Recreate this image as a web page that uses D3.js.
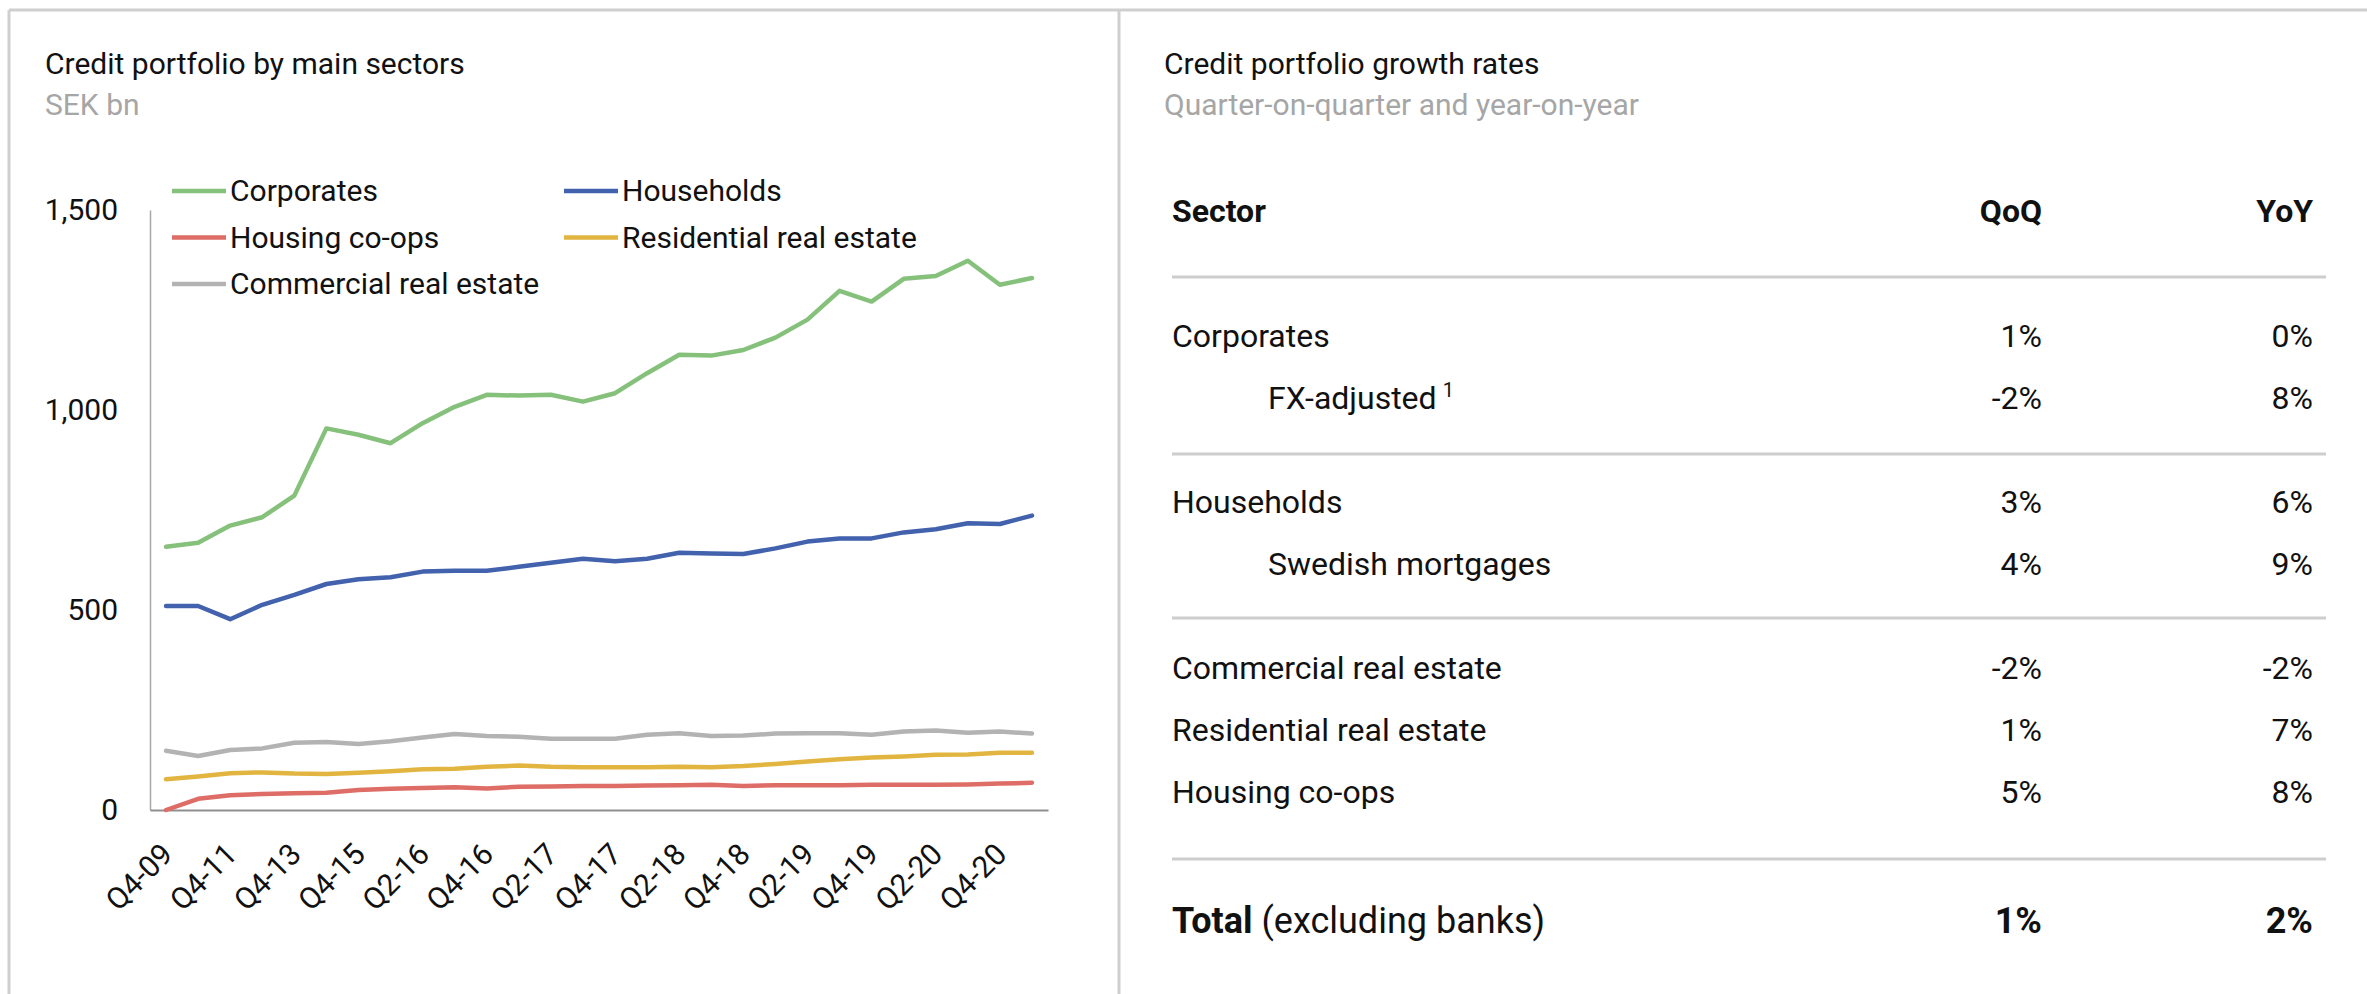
<!DOCTYPE html>
<html>
<head>
<meta charset="utf-8">
<script src="https://cdn.jsdelivr.net/npm/d3@7"></script>
<style>
  html, body { margin: 0; padding: 0; background: #fff; }
  svg { display: block; font-family: Roboto, "Noto Sans", sans-serif; }
</style>
</head>
<body>
<svg id="page" width="2367" height="994"></svg>
<script>
// Quarter categories (yearly Q4 points until 2015, quarterly afterwards)
const quarters = ["Q4-09","Q4-10","Q4-11","Q4-12","Q4-13","Q4-14","Q4-15","Q1-16","Q2-16","Q3-16",
  "Q4-16","Q1-17","Q2-17","Q3-17","Q4-17","Q1-18","Q2-18","Q3-18","Q4-18","Q1-19",
  "Q2-19","Q3-19","Q4-19","Q1-20","Q2-20","Q3-20","Q4-20","Q1-21"];

// Credit portfolio, SEK bn
const corporates  = [658, 668, 711, 732, 786, 954, 938, 917, 967, 1008, 1038, 1036, 1038, 1021, 1042, 1092, 1138, 1136, 1150, 1181, 1226, 1298, 1271, 1328, 1335, 1373, 1313, 1330];
const households  = [510, 510, 477, 513, 538, 565, 577, 582, 596, 598, 598, 608, 618, 628, 622, 628, 643, 641, 640, 654, 671, 679, 679, 694, 702, 717, 715, 736];
const housingCoops = [0, 28, 37, 40, 42, 43, 50, 53, 55, 57, 54, 58, 59, 60, 60, 61, 62, 63, 60, 62, 62, 62, 63, 63, 63, 64, 66, 68];
const residential = [77, 84, 92, 94, 91, 90, 93, 97, 102, 103, 108, 111, 108, 107, 107, 107, 108, 107, 110, 115, 121, 127, 131, 134, 138, 139, 143, 143];
const commercial  = [148, 135, 150, 154, 168, 170, 165, 172, 181, 190, 185, 183, 178, 178, 178, 188, 192, 185, 186, 191, 192, 192, 188, 196, 199, 193, 196, 191];

const seriesNames = ["Corporates", "Households", "Housing co-ops", "Residential real estate", "Commercial real estate"];
const seriesValues = [corporates, households, housingCoops, residential, commercial];
const seriesColors = ["#86c17c", "#4262ad", "#dd6d66", "#e2b540", "#b3b3b3"];

const yTicks = [0, 500, 1000, 1500];

// Growth-rate table
const tableSectors = ["Corporates", "FX-adjusted", "Households", "Swedish mortgages",
  "Commercial real estate", "Residential real estate", "Housing co-ops"];
const tableIndent = [false, true, false, true, false, false, false];
const tableNote   = ["", "1", "", "", "", "", ""];
const qoq = ["1%", "-2%", "3%", "4%", "-2%", "1%", "5%"];
const yoy = ["0%", "8%", "6%", "9%", "-2%", "7%", "8%"];
const totalQoq = "1%";
const totalYoy = "2%";

const svg = d3.select("#page");

// ---- panel frame ----
const frame = svg.append("g").attr("stroke", "#cfcfcf").attr("stroke-width", 3).attr("fill", "none");
frame.append("line").attr("x1", 9).attr("x2", 2367).attr("y1", 10).attr("y2", 10);
frame.append("line").attr("x1", 9).attr("x2", 9).attr("y1", 10).attr("y2", 994);
frame.append("line").attr("x1", 1119).attr("x2", 1119).attr("y1", 10).attr("y2", 994);

// ---- left panel: line chart ----
const left = svg.append("g");
left.append("text").attr("x", 45).attr("y", 74).attr("font-size", 30).attr("fill", "#111")
  .text("Credit portfolio by main sectors");
left.append("text").attr("x", 45).attr("y", 115).attr("font-size", 30).attr("fill", "#a6a6a6")
  .text("SEK bn");

const x = d3.scalePoint().domain(quarters).range([150, 1048]).padding(0.5);
const y = d3.scaleLinear().domain([0, 1500]).range([810, 210]);

const yAxis = left.append("g").attr("transform", "translate(150,0)")
  .call(d3.axisLeft(y).tickValues(yTicks).tickSize(0).tickPadding(32).tickFormat(d3.format(",")));
yAxis.select(".domain").attr("stroke", "#a8a8a8").attr("stroke-width", 1.5);
yAxis.selectAll("text").attr("font-size", 30).attr("font-family", "Roboto, sans-serif").attr("fill", "#111");

const xAxis = left.append("g").attr("transform", "translate(0,810)")
  .call(d3.axisBottom(x).tickSize(0).tickFormat((d, i) => i % 2 === 0 ? d : ""));
xAxis.select(".domain").attr("stroke", "#8f8f8f").attr("stroke-width", 2);
xAxis.selectAll("text")
  .attr("font-size", 30).attr("font-family", "Roboto, sans-serif").attr("fill", "#111")
  .attr("text-anchor", "end")
  .attr("dy", null)
  .attr("y", 0)
  .attr("transform", "translate(8,46) rotate(-45)");

const line = d3.line().x((d, i) => x(quarters[i])).y(d => y(d));
// draw in reverse so the first series sits on top
const order = [4, 3, 2, 1, 0];
left.append("g").selectAll("path").data(order).join("path")
  .attr("d", k => line(seriesValues[k]))
  .attr("fill", "none")
  .attr("stroke", k => seriesColors[k])
  .attr("stroke-width", 4.5)
  .attr("stroke-linejoin", "round")
  .attr("stroke-linecap", "round");

// legend, two columns
const legendPos = [[172, 191], [564, 191], [172, 237.5], [564, 237.5], [172, 284]];
const legend = left.append("g").selectAll("g").data(seriesNames).join("g")
  .attr("transform", (d, i) => `translate(${legendPos[i][0]},${legendPos[i][1]})`);
legend.append("line").attr("x1", 0).attr("x2", 54).attr("y1", 0).attr("y2", 0)
  .attr("stroke", (d, i) => seriesColors[i]).attr("stroke-width", 4.5);
legend.append("text").attr("x", 58).attr("y", 10).attr("font-size", 30).attr("fill", "#111")
  .text(d => d);

// ---- right panel: growth table ----
const right = svg.append("g");
right.append("text").attr("x", 1164).attr("y", 74).attr("font-size", 30).attr("fill", "#111")
  .text("Credit portfolio growth rates");
right.append("text").attr("x", 1164).attr("y", 115).attr("font-size", 30).attr("fill", "#a6a6a6")
  .text("Quarter-on-quarter and year-on-year");

const colLeft = 1172, colQ = 2042, colY = 2313, ruleEnd = 2326;
const header = right.append("g").attr("font-size", 32).attr("font-weight", 700).attr("fill", "#111");
header.append("text").attr("x", colLeft).attr("y", 222).text("Sector");
header.append("text").attr("x", colQ).attr("y", 222).attr("text-anchor", "end").text("QoQ");
header.append("text").attr("x", colY).attr("y", 222).attr("text-anchor", "end").text("YoY");

const ruleY = [277, 454, 618, 859];
right.append("g").selectAll("line").data(ruleY).join("line")
  .attr("x1", colLeft).attr("x2", ruleEnd).attr("y1", d => d).attr("y2", d => d)
  .attr("stroke", "#cdcdcd").attr("stroke-width", 3);

const rowY = [347, 409, 513, 575, 679, 741, 803];
const rows = right.append("g").attr("font-size", 32).attr("fill", "#111")
  .selectAll("g").data(tableSectors).join("g")
  .attr("transform", (d, i) => `translate(0,${rowY[i]})`);
const labels = rows.append("text").attr("x", (d, i) => tableIndent[i] ? 1268 : colLeft).text(d => d);
labels.filter((d, i) => tableNote[i] !== "").append("tspan")
  .attr("font-size", 20).attr("dx", 6).attr("dy", -12)
  .text((d, i) => tableNote[tableSectors.indexOf(d)]);
rows.append("text").attr("x", colQ).attr("text-anchor", "end").text((d, i) => qoq[i]);
rows.append("text").attr("x", colY).attr("text-anchor", "end").text((d, i) => yoy[i]);

const total = right.append("g").attr("font-size", 36).attr("fill", "#111");
const totalLabel = total.append("text").attr("x", colLeft).attr("y", 933);
totalLabel.append("tspan").attr("font-weight", 700).text("Total");
totalLabel.append("tspan").text(" (excluding banks)");
total.append("text").attr("x", colQ).attr("y", 933).attr("text-anchor", "end").attr("font-weight", 700).text(totalQoq);
total.append("text").attr("x", colY).attr("y", 933).attr("text-anchor", "end").attr("font-weight", 700).text(totalYoy);
</script>
</body>
</html>
